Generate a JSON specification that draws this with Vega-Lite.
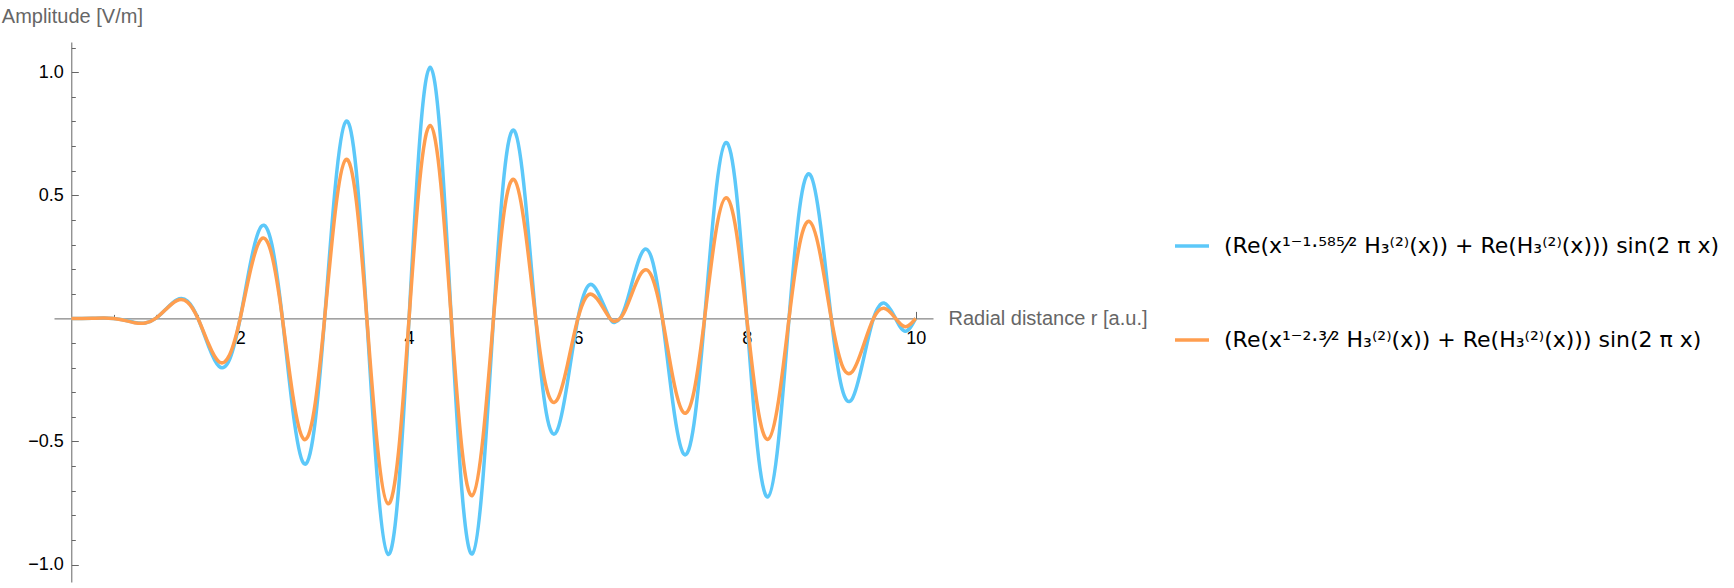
{
  "$schema": "https://vega.github.io/schema/vega-lite/v6.json",
  "width": 879,
  "height": 540,
  "autosize": {"type": "none"},
  "padding": {"left": 54, "top": 42, "right": 801, "bottom": 6},
  "background": "white",
  "config": {"view": {"stroke": null}, "font": "Liberation Sans"},
  "data": {"values": [
    {"x":0,"a":0,"b":0},
    {"x":0.125,"a":0.00005,"b":0.00007},
    {"x":0.25,"a":0.00057,"b":0.00073},
    {"x":0.375,"a":0.0014,"b":0.00166},
    {"x":0.5,"a":0,"b":0},
    {"x":0.625,"a":-0.00669,"b":-0.00728},
    {"x":0.75,"a":-0.01648,"b":-0.01734},
    {"x":0.875,"a":-0.01855,"b":-0.019},
    {"x":1,"a":0,"b":0},
    {"x":1.125,"a":0.03921,"b":0.0384},
    {"x":1.25,"a":0.07548,"b":0.07252},
    {"x":1.375,"a":0.07028,"b":0.06637},
    {"x":1.5,"a":0,"b":0},
    {"x":1.625,"a":-0.11255,"b":-0.10314},
    {"x":1.75,"a":-0.19501,"b":-0.17631},
    {"x":1.875,"a":-0.16592,"b":-0.14814},
    {"x":2,"a":0,"b":0},
    {"x":2.125,"a":0.22929,"b":0.20009},
    {"x":2.25,"a":0.37352,"b":0.32257},
    {"x":2.375,"a":0.30062,"b":0.25706},
    {"x":2.5,"a":0,"b":0},
    {"x":2.625,"a":-0.37701,"b":-0.31652},
    {"x":2.75,"a":-0.58831,"b":-0.48971},
    {"x":2.875,"a":-0.45485,"b":-0.37553},
    {"x":3,"a":0,"b":0},
    {"x":3.125,"a":0.5301,"b":0.43098},
    {"x":3.25,"a":0.79928,"b":0.64514},
    {"x":3.375,"a":0.59798,"b":0.4793},
    {"x":3.5,"a":0,"b":0},
    {"x":3.625,"a":-0.65469,"b":-0.51786},
    {"x":3.75,"a":-0.95809,"b":-0.75311},
    {"x":3.875,"a":-0.69594,"b":-0.54373},
    {"x":4,"a":0,"b":0},
    {"x":4.125,"a":0.71824,"b":0.55466},
    {"x":4.25,"a":1.02021,"b":0.78351},
    {"x":4.375,"a":0.71891,"b":0.54914},
    {"x":4.5,"a":0,"b":0},
    {"x":4.625,"a":-0.69632,"b":-0.5264},
    {"x":4.75,"a":-0.95619,"b":-0.71927},
    {"x":4.875,"a":-0.65005,"b":-0.48662},
    {"x":5,"a":0,"b":0},
    {"x":5.125,"a":0.58087,"b":0.43079},
    {"x":5.25,"a":0.76127,"b":0.56204},
    {"x":5.375,"a":0.49088,"b":0.36082},
    {"x":5.5,"a":0,"b":0},
    {"x":5.625,"a":-0.38335,"b":-0.27939},
    {"x":5.75,"a":-0.45865,"b":-0.33289},
    {"x":5.875,"a":-0.2626,"b":-0.18983},
    {"x":6,"a":0,"b":0},
    {"x":6.125,"a":0.1338,"b":0.09596},
    {"x":6.25,"a":0.09639,"b":0.06887},
    {"x":6.375,"a":0.00269,"b":0.00192},
    {"x":6.4375,"a":-0.0158,"b":-0.0112},
    {"x":6.5,"a":0,"b":0},
    {"x":6.5625,"a":0.0502,"b":0.0356},
    {"x":6.625,"a":0.12471,"b":0.08814},
    {"x":6.75,"a":0.26183,"b":0.18439},
    {"x":6.875,"a":0.24243,"b":0.17015},
    {"x":7,"a":0,"b":0},
    {"x":7.125,"a":-0.34491,"b":-0.24045},
    {"x":7.25,"a":-0.54996,"b":-0.38213},
    {"x":7.375,"a":-0.42729,"b":-0.29594},
    {"x":7.5,"a":0,"b":0},
    {"x":7.625,"a":0.48567,"b":0.33426},
    {"x":7.75,"a":0.71414,"b":0.49},
    {"x":7.875,"a":0.51739,"b":0.35393},
    {"x":8,"a":0,"b":0},
    {"x":8.125,"a":-0.52117,"b":-0.35441},
    {"x":8.25,"a":-0.72488,"b":-0.49152},
    {"x":8.375,"a":-0.49717,"b":-0.33616},
    {"x":8.5,"a":0,"b":0},
    {"x":8.625,"a":0.44703,"b":0.30058},
    {"x":8.75,"a":0.58415,"b":0.39171},
    {"x":8.875,"a":0.37379,"b":0.24997},
    {"x":9,"a":0,"b":0},
    {"x":9.125,"a":-0.28169,"b":-0.18739},
    {"x":9.25,"a":-0.32552,"b":-0.21599},
    {"x":9.375,"a":-0.17598,"b":-0.11647},
    {"x":9.5,"a":0,"b":0},
    {"x":9.625,"a":0.06263,"b":0.04125},
    {"x":9.75,"a":0.00716,"b":0.00471},
    {"x":9.875,"a":-0.05203,"b":-0.03409},
    {"x":10,"a":0,"b":0}
  ]},
  "transform": [{"fold": ["a", "b"], "as": ["series", "value"]}],
  "mark": {"type": "line", "interpolate": "natural", "strokeWidth": 3.5},
  "encoding": {
    "x": {
      "field": "x", "type": "quantitative",
      "scale": {"domain": [-0.205, 10.205], "nice": false, "zero": false},
      "axis": {
        "values": [0.5,1,1.5,2,2.5,3,3.5,4,4.5,5,5.5,6,6.5,7,7.5,8,8.5,9,9.5,10],
        "labelExpr": "datum.value % 2 == 0 ? format(datum.value, 'd') : ''",
        "tickSize": {"condition": {"test": "datum.value % 2 == 0", "value": -7}, "value": -4},
        "offset": -263.6,
        "grid": false,
        "domainColor": "#666666", "domainWidth": 1,
        "tickColor": "#666666", "tickWidth": 1,
        "labelColor": "black", "labelFontSize": 18, "labelFont": "Liberation Sans",
        "labelPadding": 18, "labelFlush": false, "labelOverlap": false,
        "title": "Radial distance r [a.u.]",
        "titleX": 894, "titleY": 0, "titleAlign": "left", "titleBaseline": "middle",
        "titleColor": "#666666", "titleFontSize": 20, "titleFontWeight": "normal", "titleFont": "Liberation Sans"
      }
    },
    "y": {
      "field": "value", "type": "quantitative",
      "scale": {"domain": [-1.071, 1.123], "nice": false, "zero": false},
      "axis": {
        "values": [-1,-0.9,-0.8,-0.7,-0.6,-0.5,-0.4,-0.3,-0.2,-0.1,0.1,0.2,0.3,0.4,0.5,0.6,0.7,0.8,0.9,1,1.1],
        "format": ".1f",
        "labelExpr": "abs(datum.value*2 - round(datum.value*2)) < 0.000001 ? replace(datum.label, '-', '−') : ''",
        "tickSize": {"condition": {"test": "abs(datum.value*2 - round(datum.value*2)) < 0.000001", "value": -7}, "value": -4},
        "offset": -17.3,
        "grid": false,
        "domainColor": "#666666", "domainWidth": 1,
        "tickColor": "#666666", "tickWidth": 1,
        "labelColor": "black", "labelFontSize": 18, "labelFont": "Liberation Sans",
        "labelPadding": 15, "labelFlush": false, "labelOverlap": false,
        "title": "Amplitude [V/m]",
        "titleAngle": 0, "titleX": -70, "titleY": -20, "titleAlign": "left", "titleBaseline": "alphabetic",
        "titleColor": "#666666", "titleFontSize": 20, "titleFontWeight": "normal", "titleFont": "Liberation Sans"
      }
    },
    "color": {
      "field": "series", "type": "nominal",
      "scale": {"domain": ["a", "b"], "range": ["#5CC8F9", "#FF9E4F"]},
      "legend": {
        "orient": "none", "legendX": 1119, "legendY": 185, "title": null,
        "symbolType": "stroke", "symbolSize": 1156, "symbolStrokeWidth": 3.5,
        "labelFontSize": 22, "labelFont": "DejaVu Sans", "labelColor": "black",
        "labelLimit": 700, "labelOffset": 13, "rowPadding": 64,
        "labelExpr": "datum.label == 'a' ? '(Re(x¹⁻¹·⁵⁸⁵⁄² H₃⁽²⁾(x)) + Re(H₃⁽²⁾(x))) sin(2 π x)' : '(Re(x¹⁻²·³⁄² H₃⁽²⁾(x)) + Re(H₃⁽²⁾(x))) sin(2 π x)'"
      }
    }
  }
}
